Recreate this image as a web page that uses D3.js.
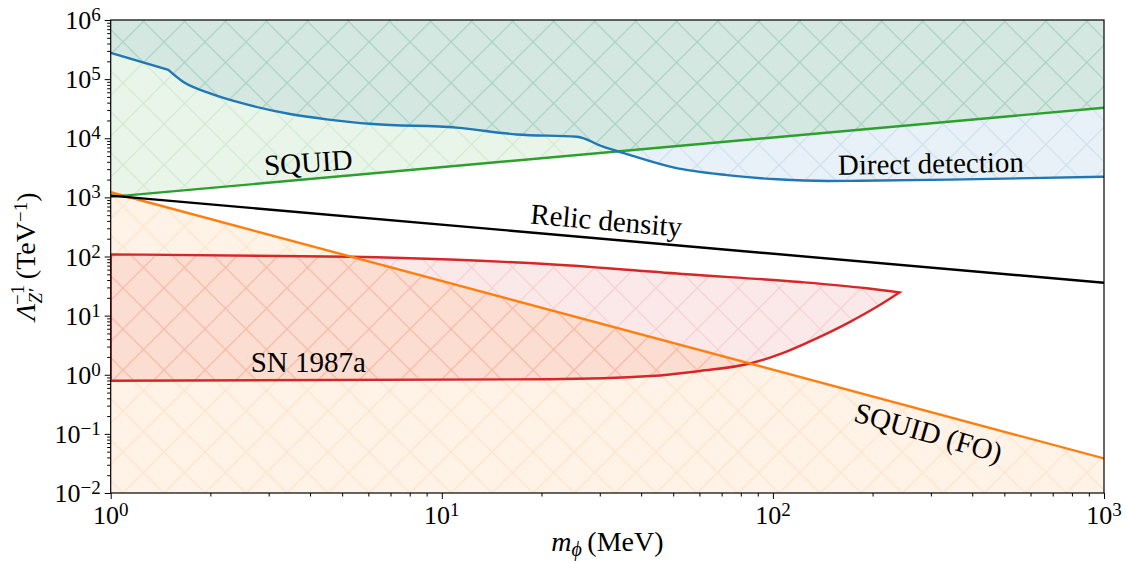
<!DOCTYPE html>
<html>
<head>
<meta charset="utf-8">
<script src="https://cdn.jsdelivr.net/npm/d3@7"></script>
<style>
  body { margin: 0; background: #fff; }
  text { font-family: "Liberation Serif", "DejaVu Serif", serif; fill: #000; }
</style>
</head>
<body>
<svg width="1126" height="563"></svg>
<script>
// ---- data (m in MeV, value in TeV^-1) ----
const squidM = [1, 1000];
const squidV = [1.02e3, 3.28e4];

const relicM = [1, 1000];
const relicV = [1.07e3, 36];

const squidFoM = [1, 1000];
const squidFoV = [1.22e3, 0.0384];

// direct detection: straight piece up to the kink, smooth after it
const directM = [1, 1.493, 1.654, 1.995, 2.46, 3.48, 4.49, 6.2, 11.1, 16.85, 25.6, 30.7, 36.2, 50, 72.6, 103, 146, 184, 343, 1000];
const directV = [2.77e5, 1.43e5, 9.0e4, 5.75e4, 3.99e4, 2.57e4, 2.09e4, 1.74e4, 1.51e4, 1.16e4, 1.06e4, 7.2e3, 5.4e3, 3.22e3, 2.38e3, 2.02e3, 1.89e3, 1.91e3, 2.0e3, 2.23e3];

const snUpperM = [1, 5.28, 10.6, 21.2, 55, 121, 192, 241];
const snUpperV = [108, 99, 89, 74, 50, 37, 29, 24.7];
const snLowerM = [1, 21.2, 42.7, 60.3, 85.3, 107, 136, 171, 206, 241];
const snLowerV = [0.79, 0.84, 0.95, 1.16, 1.55, 2.32, 4.16, 7.85, 14.1, 24.7];

const xExponents = [0, 1, 2, 3];
const yExponents = [-2, -1, 0, 1, 2, 3, 4, 5, 6];

const labels = [
  { text: 'SQUID', m: 3.95, v: 3.96e3, angle: -4 },
  { text: 'Direct detection', m: 300, v: 3.8e3, angle: -1 },
  { text: 'Relic density', m: 31.4, v: 413, angle: 5 },
  { text: 'SN 1987a', m: 3.95, v: 1.63, angle: 0 },
  { text: 'SQUID (FO)', m: 295, v: 0.107, angle: 16 }
];

const colors = { blue: '#1f77b4', green: '#2ca02c', orange: '#ff7f0e', red: '#d62728' };

// ---- layout ----
const svg = d3.select('svg'),
  margin = { left: 110.7, top: 20, right: 22, bottom: 70 },
  width = 1126 - margin.left - margin.right,
  height = 563 - margin.top - margin.bottom;

const x = d3.scaleLog().domain([1, 1000]).range([0, width]);
const y = d3.scaleLog().domain([1e-2, 1e6]).range([height, 0]);

const zip = (a, b) => a.map((d, i) => [d, b[i]]);

const defs = svg.append('defs');
defs.append('clipPath').attr('id', 'plot-clip')
  .append('rect').attr('width', width).attr('height', height);

// hatch 'x' patterns, anchored at the page origin
Object.entries(colors).forEach(([name, c]) => {
  const p = defs.append('pattern')
    .attr('id', 'hatch-' + name)
    .attr('patternUnits', 'userSpaceOnUse')
    .attr('width', 29).attr('height', 29)
    .attr('patternTransform', `translate(${-margin.left},${-margin.top}) rotate(45)`);
  p.append('path')
    .attr('d', 'M0,0.6H29M0.6,0V29')
    .attr('stroke', c)
    .attr('stroke-opacity', 0.13)
    .attr('stroke-width', 1.2)
    .attr('fill', 'none');
});

const g = svg.append('g').attr('transform', `translate(${margin.left},${margin.top})`);
const plot = g.append('g').attr('clip-path', 'url(#plot-clip)');

const line = d3.line().x((d) => x(d[0])).y((d) => y(d[1]));
const smooth = d3.line().x((d) => x(d[0])).y((d) => y(d[1])).curve(d3.curveMonotoneX);
const areaBottom = d3.area().x((d) => x(d[0])).y0(height).y1((d) => y(d[1]));

const direct = zip(directM, directV);
const squid = zip(squidM, squidV);
const squidFo = zip(squidFoM, squidFoV);
const relic = zip(relicM, relicV);

// blue curve: linear to the kink, then monotone smoothing
const directPath = line(direct.slice(0, 2)) + 'L' + smooth(direct.slice(1)).slice(1);
const directFill = directPath + `L${width},0L0,0Z`;
const squidFill = line(squid) + `L${width},0L0,0Z`;

// SN 1987a closed outline: upper edge out to the tip, lower edge back
const snPath = smooth(zip(snUpperM, snUpperV)) + 'L' +
  smooth(zip(snLowerM, snLowerV).reverse()).slice(1) + 'Z';

function region(d, name) {
  plot.append('path').attr('d', d).attr('fill', colors[name]).attr('fill-opacity', 0.1);
  plot.append('path').attr('d', d).attr('fill', `url(#hatch-${name})`);
}

region(areaBottom(squidFo), 'orange');
region(snPath, 'red');
region(directFill, 'blue');
region(squidFill, 'green');

const lw = 2.4;
plot.append('path').attr('d', snPath).attr('fill', 'none')
  .attr('stroke', colors.red).attr('stroke-width', lw).attr('stroke-linejoin', 'miter');
plot.append('path').attr('d', line(squidFo)).attr('fill', 'none')
  .attr('stroke', colors.orange).attr('stroke-width', lw);
plot.append('path').attr('d', line(squid)).attr('fill', 'none')
  .attr('stroke', colors.green).attr('stroke-width', lw);
plot.append('path').attr('d', directPath).attr('fill', 'none')
  .attr('stroke', colors.blue).attr('stroke-width', lw);
plot.append('path').attr('d', line(relic)).attr('fill', 'none')
  .attr('stroke', '#000').attr('stroke-width', lw);

// annotations
labels.forEach((l) => {
  g.append('text')
    .attr('transform', `translate(${x(l.m)},${y(l.v)}) rotate(${l.angle})`)
    .attr('text-anchor', 'middle')
    .attr('dy', '0.35em')
    .attr('font-size', '29px')
    .text(l.text);
});

// ---- axes ----
const minorX = [];
xExponents.slice(0, -1).forEach((e) => { for (let k = 2; k < 10; k++) minorX.push(k * Math.pow(10, e)); });
const minorY = [];
yExponents.slice(0, -1).forEach((e) => { for (let k = 2; k < 10; k++) minorY.push(k * Math.pow(10, e)); });

const tickAxis = (sel) => {
  sel.select('.domain').remove();
  sel.selectAll('line').attr('stroke', '#000').attr('stroke-width', 1);
};

g.append('g').attr('transform', `translate(0,${height})`)
  .call(d3.axisBottom(x).tickValues(xExponents.map((e) => Math.pow(10, e))).tickSize(6).tickFormat(''))
  .call(tickAxis);
g.append('g').attr('transform', `translate(0,${height})`)
  .call(d3.axisBottom(x).tickValues(minorX).tickSize(3.5).tickFormat(''))
  .call(tickAxis);
g.append('g')
  .call(d3.axisLeft(y).tickValues(yExponents.map((e) => Math.pow(10, e))).tickSize(6).tickFormat(''))
  .call(tickAxis);
g.append('g')
  .call(d3.axisLeft(y).tickValues(minorY).tickSize(3.5).tickFormat(''))
  .call(tickAxis);

g.append('rect').attr('width', width).attr('height', height)
  .attr('fill', 'none').attr('stroke', '#000').attr('stroke-width', 1.2);

const expText = (e) => (e < 0 ? '\u2212' + Math.abs(e) : String(e));

function powerLabel(sel, e) {
  sel.append('tspan').text('10');
  sel.append('tspan').attr('dy', '-0.42em').attr('font-size', '19px').text(expText(e));
}

xExponents.forEach((e) => {
  g.append('text')
    .attr('x', x(Math.pow(10, e)))
    .attr('y', height + 31)
    .attr('text-anchor', 'middle')
    .attr('font-size', '26px')
    .call(powerLabel, e);
});

yExponents.forEach((e) => {
  g.append('text')
    .attr('x', -10)
    .attr('y', y(Math.pow(10, e)) + 9)
    .attr('text-anchor', 'end')
    .attr('font-size', '26px')
    .call(powerLabel, e);
});

// axis titles
const xt = svg.append('text')
  .attr('x', margin.left + width / 2)
  .attr('y', 551)
  .attr('text-anchor', 'middle')
  .attr('font-size', '28px');
xt.append('tspan').attr('font-style', 'italic').text('m');
xt.append('tspan').attr('font-style', 'italic').attr('font-size', '20px').attr('dy', '0.25em').text('\u03d5');
xt.append('tspan').attr('dy', '-0.18em').text('\u2009(MeV)');

const yt = svg.append('text')
  .attr('transform', `translate(35,${margin.top + height / 2}) rotate(-90)`)
  .attr('text-anchor', 'middle')
  .attr('font-size', '28px');
yt.append('tspan').attr('font-style', 'italic').text('\u039b');
yt.append('tspan').attr('font-style', 'italic').attr('font-size', '19px').attr('dy', '0.35em').text('Z\u2032');
yt.append('tspan').attr('font-size', '19px').attr('dx', '-0.85em').attr('dy', '-0.95em').text('\u22121');
yt.append('tspan').attr('dy', '0.42em').text('\u2009(TeV');
yt.append('tspan').attr('font-size', '19px').attr('dy', '-0.42em').text('\u22121');
yt.append('tspan').attr('dy', '0.29em').text(')');
</script>
</body>
</html>
